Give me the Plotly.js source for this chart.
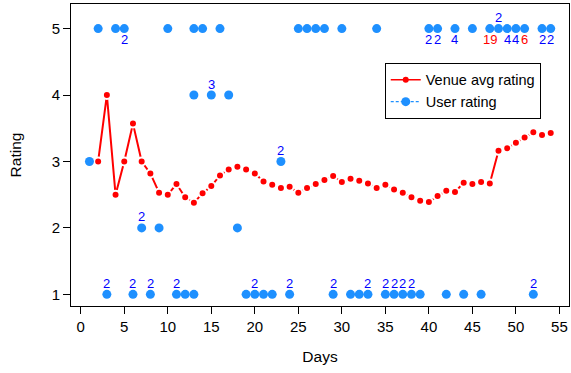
<!DOCTYPE html>
<html>
<head>
<meta charset="utf-8">
<script src="https://cdn.plot.ly/plotly-3.0.1.min.js"></script>
<style>html,body{margin:0;padding:0;background:#fff;}#chart{width:571px;height:373px;}</style>
</head>
<body>
<div id="chart"></div>
<script>
// Venue average rating by day
const venueDays = [2,3,4,5,6,7,8,9,10,11,12,13,14,15,16,17,18,19,20,21,22,23,24,25,26,27,28,29,30,31,32,33,34,35,36,37,38,39,40,41,42,43,44,45,46,47,48,49,50,51,52,53,54];
const venueAvg = [3.0,4.0,2.5,3.0,3.57,3.0,2.82,2.53,2.5,2.66,2.46,2.38,2.52,2.63,2.79,2.88,2.92,2.88,2.82,2.70,2.65,2.60,2.62,2.53,2.60,2.66,2.72,2.78,2.69,2.74,2.71,2.67,2.60,2.65,2.58,2.53,2.46,2.41,2.39,2.48,2.56,2.54,2.68,2.66,2.69,2.67,3.16,3.20,3.28,3.36,3.44,3.40,3.43];

// User ratings (day, rating, number of ratings at that point)
const userDays    = [2,4,5,10,13,14,16,25,26,27,28,30,34,40,41,43,45,47,48,49,50,51,53,54, 13,15,17, 1,23, 7,9,18, 3,6,8,11,12,13,19,20,21,22,24,29,31,32,33,35,36,37,38,39,42,44,46,52];
const userRatings = [5,5,5,5,5,5,5,5,5,5,5,5,5,5,5,5,5,5,5,5,5,5,5,5, 4,4,4, 3,3, 2,2,2, 1,1,1,1,1,1,1,1,1,1,1,1,1,1,1,1,1,1,1,1,1,1,1,1];
const userCounts  = [1,1,2,1,1,1,1,1,1,1,1,1,1,2,2,4,1,19,2,4,4,6,2,2, 1,3,1, 1,2, 2,1,1, 2,2,2,2,1,1,1,2,1,1,2,2,1,1,2,2,2,2,2,1,1,1,1,2];
const flippedLabelDays = [48]; // top-row labels drawn above instead of below

const xTicks = [0,5,10,15,20,25,30,35,40,45,50,55];
const yTicks = [1,2,3,4,5];

const FONT = 'Liberation Sans, Arial, sans-serif';
const RED = '#FF0000';
const BLUE = '#1E90FF';

const annotations = [];
userDays.forEach((d, i) => {
  const c = userCounts[i];
  if (c > 1) {
    const r = userRatings[i];
    const below = (r === 5) && flippedLabelDays.indexOf(d) < 0;
    annotations.push({
      x: d, y: r, xref: 'x', yref: 'y', text: String(c), showarrow: false,
      yshift: below ? -11 : 11,
      font: {family: FONT, size: 13, color: c >= 5 ? RED : '#0000FF'}
    });
  }
});

const traces = [
  {x: venueDays, y: venueAvg, mode: 'lines', line: {color: RED, width: 2}, showlegend: false, hoverinfo: 'skip'},
  {x: venueDays, y: venueAvg, mode: 'markers', marker: {color: RED, size: 8, line: {color: '#FFFFFF', width: 2}}, showlegend: false},
  {x: userDays, y: userRatings, mode: 'markers', marker: {color: BLUE, size: 9}, showlegend: false},
  {x: [null], y: [null], mode: 'lines+markers', name: 'Venue avg rating', line: {color: RED, width: 1.5}, marker: {color: RED, size: 6}},
  {x: [null], y: [null], mode: 'lines+markers', name: 'User rating', line: {color: BLUE, width: 1.2, dash: '3px,2px'}, marker: {color: BLUE, size: 9}}
];

const layout = {
  width: 571, height: 373,
  margin: {l: 71, r: 2, t: 4, b: 67},
  paper_bgcolor: '#fff', plot_bgcolor: '#fff',
  font: {family: FONT, size: 14, color: '#000'},
  showlegend: true,
  legend: {x: 0.63, y: 0.805, xanchor: 'left', yanchor: 'top', bordercolor: '#000', borderwidth: 1,
           bgcolor: '#fff', font: {family: FONT, size: 14.5, color: '#000'}, tracegroupgap: 0},
  xaxis: {range: [-1.12, 56.1], tickmode: 'array', tickvals: xTicks, ticks: 'outside', ticklen: 7, tickcolor: '#000',
          showline: true, mirror: true, linecolor: '#000', linewidth: 1, showgrid: false, zeroline: false,
          title: {text: 'Days', font: {family: FONT, size: 15.5}, standoff: 17}, tickfont: {family: FONT, size: 15}},
  yaxis: {range: [0.825, 5.37], tickmode: 'array', tickvals: yTicks, ticks: 'outside', ticklen: 7, tickcolor: '#000',
          showline: true, mirror: true, linecolor: '#000', linewidth: 1, showgrid: false, zeroline: false,
          title: {text: 'Rating', font: {family: FONT, size: 15.5}, standoff: 26}, tickfont: {family: FONT, size: 15}},
  annotations: annotations
};

Plotly.newPlot('chart', traces, layout, {displayModeBar: false, staticPlot: true});
</script>
</body>
</html>
